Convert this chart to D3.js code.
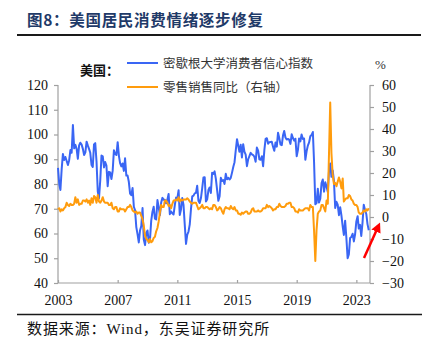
<!DOCTYPE html>
<html><head><meta charset="utf-8">
<script src="https://cdn.jsdelivr.net/npm/d3@7"></script>
<style>
html,body{margin:0;padding:0;background:#fff;}
svg{display:block;}
</style></head>
<body>
<script>
// ---- Data (monthly, Jan 2003 – Nov 2023) ----
const startYear = 2003;
const sentiment = [
 86.5,79.9,77.6,86.0,92.1,89.7,90.9,89.3,87.7,89.6,93.7,92.6,
 103.8,94.4,95.8,94.2,90.2,95.6,96.7,95.9,94.2,91.7,92.8,97.1,
 95.5,94.1,92.6,87.7,86.9,96.0,96.5,89.1,76.9,74.2,81.6,91.5,
 91.2,86.7,88.9,87.4,79.1,84.9,84.7,82.0,85.4,93.6,92.1,91.7,
 96.9,91.3,88.4,87.1,88.3,85.3,90.4,83.4,83.4,80.9,76.1,75.5,
 78.4,70.8,69.5,62.6,59.8,56.4,61.2,63.0,70.3,57.6,55.3,60.1,
 61.2,56.3,57.3,65.1,68.7,70.8,66.0,65.7,73.5,70.6,67.4,72.5,
 74.4,73.6,73.6,72.2,73.6,76.0,67.8,68.9,68.2,67.7,71.6,74.5,
 74.2,77.5,67.5,69.8,74.3,71.5,63.7,55.8,59.5,60.8,63.7,69.9,
 75.0,75.3,76.2,76.4,79.3,73.2,72.3,74.3,78.3,82.6,82.7,72.9,
 73.8,77.6,78.6,76.4,84.5,84.1,85.1,82.1,77.5,73.2,75.1,82.5,
 81.2,81.6,80.0,84.1,81.9,82.5,81.8,82.5,84.6,86.9,88.8,93.6,
 98.1,95.4,93.0,95.9,90.7,96.1,93.1,91.9,87.2,90.0,91.3,92.6,
 92.0,91.7,91.0,89.0,94.7,93.5,90.0,89.8,91.2,87.2,93.8,98.2,
 98.5,96.3,96.9,97.0,97.1,95.1,93.4,96.8,95.1,100.7,98.5,95.9,
 95.7,99.7,101.4,98.8,98.0,98.2,97.9,96.2,100.1,98.6,97.5,98.3,
 91.2,93.8,98.4,97.2,100.0,98.2,98.4,89.8,93.2,95.5,96.8,99.3,
 99.8,101.0,89.1,71.8,72.3,78.1,72.5,74.1,80.4,81.8,76.9,80.7,
 79.0,76.8,84.9,88.3,82.9,85.5,81.2,70.3,72.8,71.7,67.4,70.6,
 67.2,62.8,59.4,65.2,58.4,50.0,51.5,58.2,58.6,59.9,56.8,59.7,
 64.9,67.0,62.0,63.5,59.0,64.4,71.6,69.5,67.9,63.8,61.3
];
const retailYoY = [
 3.5,4.0,2.5,3.5,3.0,4.0,4.5,6.5,5.5,5.0,6.0,5.5,
 5.5,6.0,9.0,6.5,8.0,5.5,6.0,6.0,7.5,7.5,7.0,8.0,
 6.5,7.5,5.5,8.5,6.5,9.5,9.0,6.5,10.0,7.0,6.5,7.5,
 9.0,7.0,6.5,6.5,6.5,5.5,5.5,6.5,4.0,3.5,4.5,4.5,
 2.5,2.5,4.0,3.5,3.5,3.5,2.5,3.5,4.5,4.5,5.5,4.5,
 3.0,2.5,2.0,2.5,1.5,2.0,2.0,0.5,-1.0,-4.0,-8.5,-10.0,
 -10.5,-11.5,-10.0,-11.5,-11.0,-9.5,-9.0,-6.5,-5.0,-2.0,2.0,5.5,
 4.5,4.5,7.5,7.5,6.5,5.0,5.5,4.0,6.0,7.5,7.5,8.0,
 7.5,9.0,7.0,8.0,7.5,8.0,8.0,8.0,8.5,8.0,7.0,6.5,
 6.0,6.5,6.5,6.5,5.0,3.5,4.0,4.5,5.5,4.0,4.0,4.5,
 4.5,4.0,3.5,4.0,3.5,5.5,5.5,4.5,3.0,3.5,4.5,4.0,
 2.5,1.5,3.5,4.5,4.0,4.0,3.5,5.0,4.0,3.5,4.5,3.0,
 3.0,1.5,1.5,1.0,2.0,1.5,2.0,2.5,2.5,1.5,1.5,2.0,
 3.5,4.0,2.5,2.5,2.5,3.0,2.5,2.5,3.0,4.0,4.0,4.0,
 5.5,4.5,5.0,4.5,4.0,3.0,3.5,3.5,4.5,4.5,6.0,5.0,
 4.5,4.5,4.5,5.0,6.0,6.0,6.5,6.5,4.5,4.5,4.0,2.5,
 2.5,2.0,3.5,3.0,3.0,3.0,3.5,4.0,4.0,4.0,3.0,5.5,
 4.5,4.5,-6.0,-20.0,-6.0,1.5,2.5,3.0,5.5,5.5,4.0,2.5,
 7.5,6.0,28.0,52.0,29.0,19.0,15.0,15.5,14.0,16.0,18.0,16.0,
 13.0,17.5,7.0,8.0,8.5,8.5,10.0,9.5,8.0,7.5,6.0,5.5,
 5.5,4.5,2.0,1.5,1.5,2.0,3.0,2.5,3.5,3.0,4.0
];
const leftTicks = [40,50,60,70,80,90,100,110,120];
const rightTicks = [-30,-20,-10,0,10,20,30,40,50,60];
const xTickYears = [2003,2007,2011,2015,2019,2023];
const title = "图8：美国居民消费情绪逐步修复";
const legendHeader = "美国：";
const seriesNames = ["密歇根大学消费者信心指数","零售销售同比（右轴）"];
const sourceText = "数据来源：Wind，东吴证券研究所";

// ---- Layout ----
const W = 432, H = 341;
const m = {left:58, right:370, top:85, bottom:283};
const serif = "'Liberation Serif','Times New Roman','Noto Sans CJK SC',serif";
const cjk = "'Noto Sans CJK SC','Liberation Serif',sans-serif";

const svg = d3.select("body").append("svg").attr("width",W).attr("height",H);

const dates = sentiment.map((_,i)=> new Date(startYear + Math.floor(i/12), i%12, 1));

const x = d3.scaleTime().domain([new Date(startYear,0,1), new Date(2023,11,1)]).range([m.left, m.right]);
const yL = d3.scaleLinear().domain([40,120]).range([m.bottom, m.top]);
const yR = d3.scaleLinear().domain([-30,60]).range([m.bottom, m.top]);

// Title
svg.append("text").attr("x",27).attr("y",26).text(title)
  .attr("font-family",cjk).attr("font-weight","bold").attr("font-size",15.5)
  .attr("fill","#1f3a68").attr("letter-spacing",0.7);
svg.append("line").attr("x1",17).attr("x2",421).attr("y1",35).attr("y2",35)
  .attr("stroke","#1a1a1a").attr("stroke-width",2);

// Axes
const axisColor = "#a0a0a0";
const gL = svg.append("g").attr("transform",`translate(${m.left},0)`)
  .call(d3.axisLeft(yL).tickValues(leftTicks).tickSize(4).tickPadding(6));
const gR = svg.append("g").attr("transform",`translate(${m.right},0)`)
  .call(d3.axisRight(yR).tickValues(rightTicks).tickSize(4).tickPadding(8));
const gB = svg.append("g").attr("transform",`translate(0,${m.bottom})`)
  .call(d3.axisBottom(x).tickValues(xTickYears.map(yv=>new Date(yv,0,1)))
    .tickFormat(d3.timeFormat("%Y")).tickSize(-3).tickPadding(9));
[gL,gR,gB].forEach(g=>{
  g.select(".domain").attr("stroke",axisColor).attr("stroke-width",1.2);
  g.selectAll(".tick line").attr("stroke",axisColor).attr("stroke-width",1.2);
  g.selectAll(".tick text").attr("font-family",serif).attr("font-size",14).attr("fill","#111");
});
gL.select(".domain").attr("d",`M0,${m.top}V${m.bottom}`);
gR.select(".domain").attr("d",`M0,${m.top}V${m.bottom}`);
gB.select(".domain").attr("d",`M${m.left},0H${m.right}`);
gB.selectAll(".tick text").attr("dy","0.9em");

// Lines
const blue = "#3a66f4", orange = "#ff9c0d";
const lineL = d3.line().x((d,i)=>x(dates[i])).y(d=>yL(d));
const lineR = d3.line().x((d,i)=>x(dates[i])).y(d=>yR(d));
svg.append("path").datum(sentiment).attr("d",lineL)
  .attr("fill","none").attr("stroke",blue).attr("stroke-width",2).attr("stroke-linejoin","round");
svg.append("path").datum(retailYoY).attr("d",lineR)
  .attr("fill","none").attr("stroke",orange).attr("stroke-width",2).attr("stroke-linejoin","round");

// Legend
svg.append("text").attr("x",80).attr("y",75).text(legendHeader)
  .attr("font-family",cjk).attr("font-weight","bold").attr("font-size",13).attr("fill","#111");
[[blue,63],[orange,87]].forEach(([c,yy],i)=>{
  svg.append("line").attr("x1",127).attr("x2",158).attr("y1",yy).attr("y2",yy)
    .attr("stroke",c).attr("stroke-width",2);
  svg.append("text").attr("x",163).attr("y",yy+4.5).text(seriesNames[i])
    .attr("font-family",cjk).attr("font-size",12.5).attr("fill","#333");
});
svg.append("text").attr("x",375).attr("y",69).text("%")
  .attr("font-family",serif).attr("font-size",13).attr("fill","#333");

// Red arrow
svg.append("defs").append("marker").attr("id","ah").attr("viewBox","0 0 10 10")
  .attr("refX",5).attr("refY",5).attr("markerWidth",4).attr("markerHeight",4).attr("orient","auto")
  .append("path").attr("d","M0,0L10,5L0,10z").attr("fill","#f00");
svg.append("line").attr("x1",364).attr("y1",258).attr("x2",378).attr("y2",227)
  .attr("stroke","#f00").attr("stroke-width",2.5).attr("marker-end","url(#ah)");

// Source
svg.append("line").attr("x1",17).attr("x2",422).attr("y1",314.5).attr("y2",314.5)
  .attr("stroke","#1a1a1a").attr("stroke-width",1.5);
svg.append("text").attr("x",27).attr("y",334).text(sourceText)
  .attr("font-family",serif).attr("font-size",15).attr("letter-spacing",0.9).attr("fill","#111");
</script>
</body></html>
